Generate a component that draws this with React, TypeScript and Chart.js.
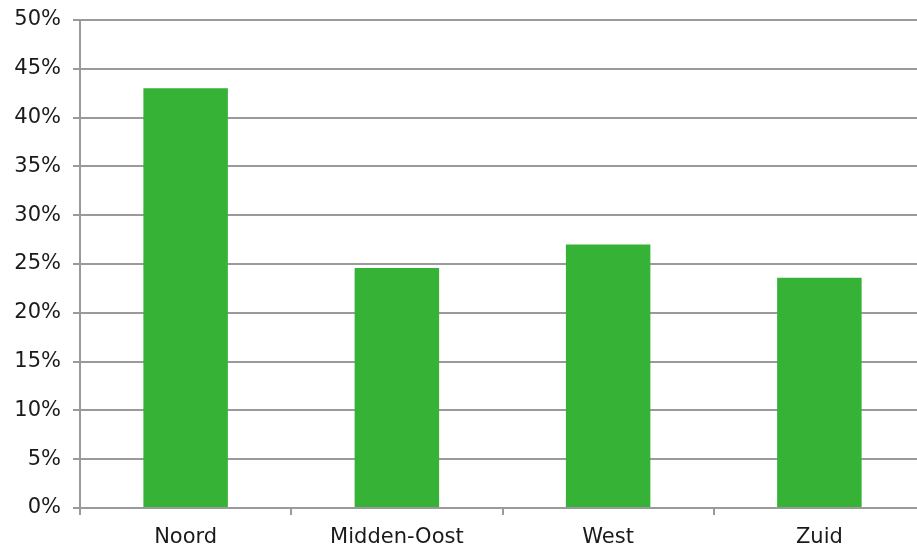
import React, { useEffect, useRef } from "react";
import { Chart, registerables } from "chart.js";

Chart.register(...registerables);

const categories = ["Noord", "Midden-Oost", "West", "Zuid"];
const shares = [43.0, 24.6, 27.0, 23.6];
const yTicks = [0, 5, 10, 15, 20, 25, 30, 35, 40, 45, 50];

export default function App() {
  const ref = useRef<HTMLCanvasElement | null>(null);

  useEffect(() => {
    document.body.style.margin = "0";
    const ctx = ref.current!.getContext("2d")!;
    const font = { family: "'DejaVu Sans', Verdana, sans-serif", size: 21 };
    const gridColor = "#9a9a9a";
    const chart = new Chart(ctx, {
      type: "bar",
      data: {
        labels: categories,
        datasets: [
          {
            data: shares,
            backgroundColor: "#36b336",
            borderWidth: 0,
            barPercentage: 0.4,
            categoryPercentage: 1,
          },
        ],
      },
      options: {
        animation: false,
        responsive: false,
        maintainAspectRatio: false,
        layout: { padding: { top: 20, right: 0, left: 0, bottom: 0 } },
        plugins: { legend: { display: false }, tooltip: { enabled: false } },
        scales: {
          x: {
            offset: true,
            grid: {
              drawOnChartArea: false,
              drawTicks: true,
              tickLength: 7,
              color: gridColor,
              lineWidth: 2,
              offset: true,
            },
            border: { color: gridColor, width: 2 },
            ticks: { font, color: "#1a1a1a", padding: 10, maxRotation: 0 },
            afterFit: (scale: any) => {
              scale.height = 38;
              scale.paddingLeft = 0;
              scale.paddingRight = 0;
            },
          },
          y: {
            min: 0,
            max: 50,
            afterBuildTicks: (scale: any) => {
              scale.ticks = yTicks.map((v) => ({ value: v }));
            },
            grid: { color: gridColor, lineWidth: 2, tickLength: 7 },
            border: { color: gridColor, width: 2 },
            ticks: {
              font,
              color: "#1a1a1a",
              padding: 12,
              callback: (v: any) => v + "%",
            },
            afterFit: (scale: any) => {
              scale.width = 80;
              scale.paddingTop = 0;
              scale.paddingBottom = 0;
            },
          },
        },
      },
    });
    return () => chart.destroy();
  }, []);

  return (
    <div style={{ position: "absolute", left: 0, top: 0, width: 917, height: 546, overflow: "hidden" }}>
      <canvas ref={ref} width={925} height={546} style={{ width: 925, height: 546 }} />
    </div>
  );
}
